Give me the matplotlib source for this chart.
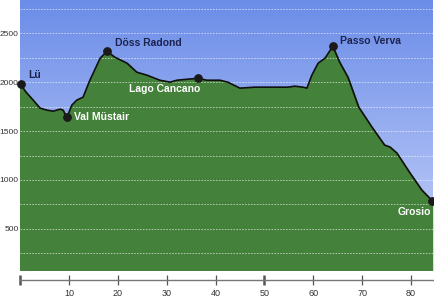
import numpy as np
import matplotlib
matplotlib.use('Agg')
import matplotlib.pyplot as plt
from matplotlib.colors import LinearSegmentedColormap

plt.rcParams['font.family'] = ['Liberation Sans', 'DejaVu Sans']

# Streckenprofil: Distanz in km, Hoehe in m
km = [0.0, 1.2, 2.7, 4.1, 5.5, 6.8, 8.2, 8.8, 9.6, 10.6, 11.6, 12.9, 14.3,
      16.4, 17.8, 19.4, 21.9, 23.9, 26.0, 28.6, 30.7, 32.1, 34.2, 36.4,
      38.2, 40.9, 42.5, 45.0, 48.0, 54.8, 56.2, 57.9, 58.7, 59.7, 61.0,
      62.4, 64.0, 65.4, 67.1, 69.3, 72.0, 74.6, 75.7, 77.1, 79.8, 82.2,
      84.3]
ele = [1985, 1900, 1816, 1735, 1714, 1704, 1724, 1715, 1640, 1765, 1816,
       1847, 2020, 2245, 2316, 2255, 2194, 2102, 2071, 2020, 2000, 2020,
       2030, 2040, 2020, 2020, 2000, 1939, 1949, 1949, 1959, 1949, 1939,
       2071, 2194, 2245, 2367, 2204, 2051, 1745, 1541, 1357, 1337, 1276,
       1071, 898, 790]

# Wegpunkte
wp_names = ['Lü', 'Val Müstair', 'Döss Radond', 'Lago Cancano',
            'Passo Verva', 'Grosio']
wp_km = [0.2, 9.6, 17.8, 36.4, 64.0, 84.3]
wp_ele = [1985, 1640, 2316, 2040, 2367, 790]

y_ticks = [500, 1000, 1500, 2000, 2500]
x_ticks = [0, 10, 20, 30, 40, 50, 60, 70, 80]

fig = plt.figure(figsize=(4.35, 3.0), dpi=100)
ax = fig.add_axes([20 / 435, 30 / 300, 413 / 435, 270 / 300])
xmax = 84.5
ymin, ymax = 80, 2840
ax.set_xlim(0, xmax)
ax.set_ylim(ymin, ymax)

# Himmel als Verlauf
sky = LinearSegmentedColormap.from_list('sky', ['#6b8de8', '#c9d3fa'])
grad = np.linspace(0, 1, 256).reshape(-1, 1)
ax.imshow(grad, cmap=sky, aspect='auto', extent=[0, xmax, ymin, ymax],
          origin='upper', zorder=0)

ax.fill_between(km, ele, ymin, color='#44813a', zorder=1)
ax.plot(km, ele, color='#111111', lw=1.2, zorder=3)

for y in np.arange(250, 2800, 250):
    ax.axhline(y, color='white', lw=0.6, ls=(0, (2, 1.5)), alpha=0.65,
               zorder=2)

ax.scatter(wp_km, wp_ele, s=28, color='#1a1a1a', zorder=4, clip_on=False)

# Beschriftung: (Versatz x, Versatz y, Ausrichtung, Farbe)
lab = {
    'Lü': (5, 6, 'left', '#1c2350'),
    'Val Müstair': (5, 0, 'left', 'white'),
    'Döss Radond': (6, 6, 'left', '#1c2350'),
    'Lago Cancano': (1.5, -8, 'right', 'white'),
    'Passo Verva': (5, 3.5, 'left', '#1c2350'),
    'Grosio': (-1, -8, 'right', 'white'),
}
for name, x, y in zip(wp_names, wp_km, wp_ele):
    dx, dy, ha, col = lab[name]
    ax.annotate(name, (x, y), xytext=(dx, dy), textcoords='offset points',
                color=col, fontsize=7.5, fontweight='bold',
                ha=ha, va='center', zorder=5)

ax.set_yticks(y_ticks)
ax.set_yticklabels([str(v) for v in y_ticks], fontsize=6, color='#333333')
ax.tick_params(axis='y', length=0, pad=1)
ax.set_xticks([])
for s in ax.spines.values():
    s.set_visible(False)

# Lineal unten
ax2 = fig.add_axes([20 / 435, 15 / 300, 413 / 435, 10 / 300])
ax2.set_xlim(0, xmax)
ax2.set_yticks([])
ax2.patch.set_visible(False)
for s in ['top', 'left', 'right']:
    ax2.spines[s].set_visible(False)
ax2.spines['bottom'].set_position(('axes', 0.5))
ax2.spines['bottom'].set_color('#777777')
ax2.spines['bottom'].set_linewidth(1.0)
ax2.set_xticks(x_ticks)
ax2.set_xticklabels([''] + [str(v) for v in x_ticks[1:]], fontsize=6.5,
                    color='#333333')
ax2.tick_params(axis='x', direction='inout', length=7, width=0.9,
                color='#555555', pad=3)
for t, v in zip(ax2.xaxis.get_major_ticks(), x_ticks):
    if v in (0, 50):
        t.tick1line.set_markeredgewidth(1.8)
        t.tick1line.set_color('#222222')

fig.savefig('out.png', dpi=100)
